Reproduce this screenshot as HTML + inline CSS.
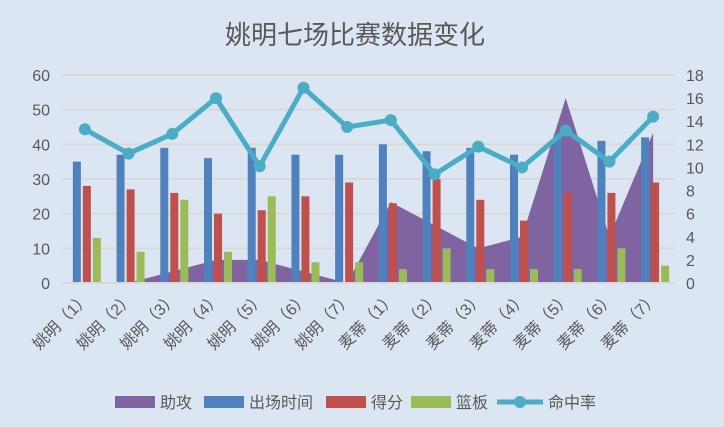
<!DOCTYPE html>
<html><head><meta charset="utf-8"><style>
body{margin:0;background:#dce6f2;}
svg{display:block;font-family:"Liberation Sans","Noto Sans CJK SC",sans-serif;}
</style></head><body>
<svg id="c" width="724" height="427">
<rect width="724" height="427" fill="#dce6f2"/>
<text x="355" y="44" text-anchor="middle" font-size="26" fill="#595959">姚明七场比赛数据变化</text>
</svg>
<script>
const categories=["姚明（1）","姚明（2）","姚明（3）","姚明（4）","姚明（5）","姚明（6）","姚明（7）","麦蒂（1）","麦蒂（2）","麦蒂（3）","麦蒂（4）","麦蒂（5）","麦蒂（6）","麦蒂（7）"];
const assists=[0,0,1,2,2,1,0,7,5,3,4,16,4,13];
const minutes=[35,37,39,36,39,37,37,40,38,39,37,43,41,42];
const points=[28,27,26,20,21,25,29,23,30,24,18,26,26,29];
const rebounds=[13,9,24,9,25,6,6,4,10,4,4,4,10,5];
const fgPct=[13.3,11.2,12.9,16,10.1,16.9,13.5,14.1,9.4,11.8,10,13.2,10.5,14.4];
const leftTicks=[0,10,20,30,40,50,60];
const rightTicks=[0,2,4,6,8,10,12,14,16,18];
const svg=document.getElementById('c');const NS='http://www.w3.org/2000/svg';
const X0=63,X1=675,Y0=283,Y1=75;
const band=(X1-X0)/categories.length;
const cx=i=>X0+band*(i+0.5);
const yL=v=>Y0-(v/60)*(Y0-Y1);
const yR=v=>Y0-(v/18)*(Y0-Y1);
function mk(t,a,p){const e=document.createElementNS(NS,t);for(const k in a)e.setAttribute(k,a[k]);(p||svg).appendChild(e);return e;}
leftTicks.forEach(v=>{
 const g=mk('line',{x1:X0,x2:X1,y1:yL(v),y2:yL(v),stroke:'#d9d9d9','stroke-width':2});
 
 
 const t=mk('text',{x:50,y:yL(v)+6,'text-anchor':'end','font-size':16,fill:'#595959'});t.textContent=v;
 
 
});
rightTicks.forEach(v=>{
 const t=mk('text',{x:686,y:yR(v)+6,'font-size':16,fill:'#595959'});t.textContent=v;
 
 
});
let d='M'+cx(0)+','+Y0;assists.forEach((v,i)=>d+=' L'+cx(i)+','+yR(v));d+=' L'+cx(assists.length-1)+','+Y0+' Z';
const area=mk('path',{d:d,fill:'#8064a2'});


const bw=8;
categories.forEach((c,i)=>{
 const m=cx(i);
 [[minutes,'#4f81bd',-12,'bar-minutes'],[points,'#c0504d',-2,'bar-points'],[rebounds,'#9bbb59',8,'bar-rebounds']].forEach(([arr,col,off,nm])=>{
  const r=mk('rect',{x:m+off,y:yL(arr[i]),width:bw,height:Y0-yL(arr[i]),fill:col});
  
  
 });
 const t=mk('text',{x:0,y:0,'text-anchor':'end','font-size':16,fill:'#595959',transform:`translate(${m+6},${Y0+16}) rotate(-45)`});t.textContent=c;
 
 
});
const base=mk('line',{x1:X0,x2:X1,y1:Y0,y2:Y0,stroke:'#d9d9d9','stroke-width':2});


const pl=mk('polyline',{points:fgPct.map((v,i)=>cx(i)+','+yR(v)).join(' '),fill:'none',stroke:'#4bacc6','stroke-width':5,'stroke-linejoin':'round'});


fgPct.forEach((v,i)=>{const p=mk('circle',{cx:cx(i),cy:yR(v),r:6,fill:'#4bacc6'});
 
 });
// legend
const lg=mk('g',{});


const items=[['助攻','#8064a2',115],['出场时间','#4f81bd',204],['得分','#c0504d',326],['篮板','#9bbb59',411]];
items.forEach(([n,col,x])=>{
 const r=mk('rect',{x:x,y:396,width:40,height:12,fill:col},lg);
 
 
 const t=mk('text',{x:x+45,y:408,'font-size':16,fill:'#595959'},lg);t.textContent=n;
 
 
});
const ll=mk('line',{x1:497,x2:543,y1:402,y2:402,stroke:'#4bacc6','stroke-width':5},lg);


const lc=mk('circle',{cx:520,cy:402,r:6,fill:'#4bacc6'},lg);


const lt=mk('text',{x:548,y:408,'font-size':16,fill:'#595959'},lg);lt.textContent='命中率';


</script>
</body></html>
